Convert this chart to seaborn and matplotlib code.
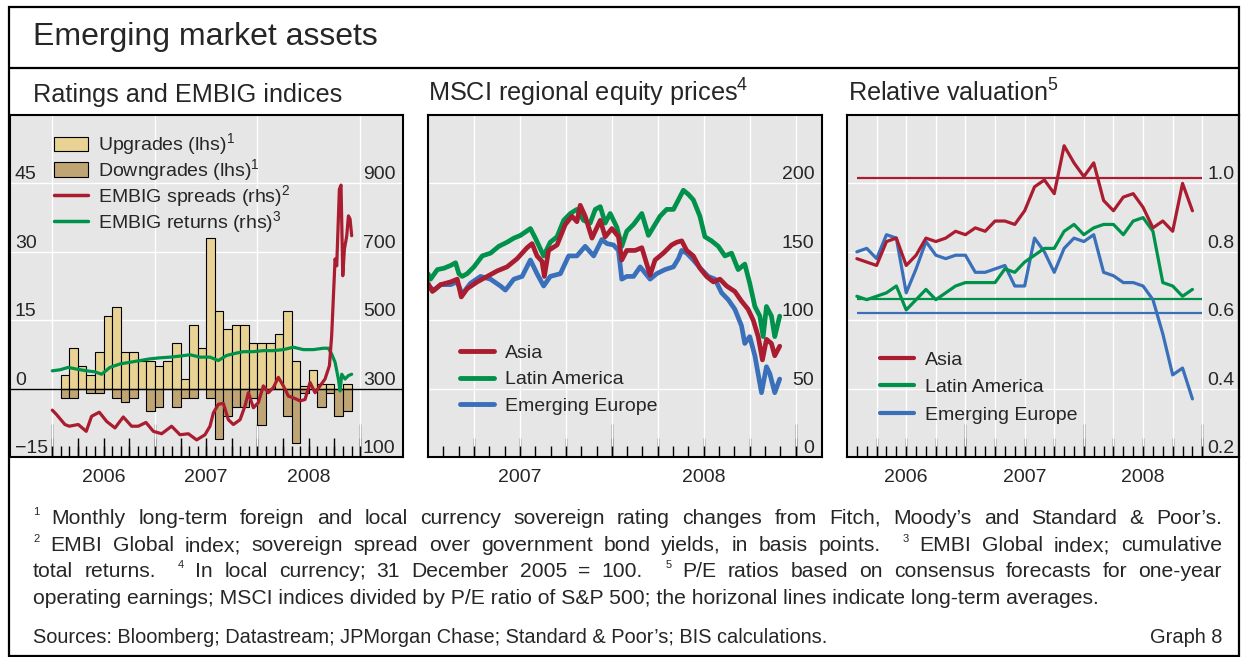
import numpy as np
import matplotlib
matplotlib.use("Agg")
import matplotlib.pyplot as plt
import seaborn as sns
from matplotlib.lines import Line2D
from matplotlib.patches import Patch, Rectangle

W, H = 1242, 657

# ---------------- data ----------------
# panel 1: monthly rating changes (month index since Jan 2006), EMBIG indices
rating_month = np.arange(1, 35)
upgrades = [3, 9, 5, 3, 8, 16, 18, 8, 8, 6, 6, 5, 6, 10, 2, 14, 9, 33, 17, 13,
            14, 14, 10, 10, 10, 12, 17, 6, 0.5, 4, 1, 1, 0, 1]
downgrades = [-2, -2, 0, -1, -1, 0, -2, -3, -2, 0, -5, -4, 0, -4, -2, -2, 0, -2, -11, -6,
              -4, -4, -2, -8, 0, 0, -6, -12, -1, 0, -4, -1, -6, -5]

spread_t = [2006.000, 2006.042, 2006.123, 2006.166, 2006.253, 2006.331, 2006.383, 2006.458,
            2006.530, 2006.611, 2006.692, 2006.773, 2006.838, 2006.913, 2006.985, 2007.066,
            2007.163, 2007.245, 2007.326, 2007.407, 2007.488, 2007.537, 2007.570, 2007.618,
            2007.667, 2007.716, 2007.765, 2007.830, 2007.878, 2007.911, 2007.960, 2008.008,
            2008.057, 2008.106, 2008.155, 2008.203, 2008.252, 2008.301, 2008.350, 2008.415,
            2008.463, 2008.512, 2008.561, 2008.610, 2008.658, 2008.701, 2008.723, 2008.756,
            2008.772, 2008.798, 2008.814, 2008.831, 2008.847, 2008.870, 2008.886, 2008.902,
            2008.918]
spreads = [237, 224, 195, 190, 195, 175, 219, 231, 204, 185, 217, 190, 190, 201, 175, 168,
           190, 165, 168, 150, 165, 190, 229, 254, 257, 209, 195, 209, 249, 288, 244, 259,
           308, 288, 303, 333, 308, 278, 273, 264, 268, 318, 288, 308, 328, 367, 456, 679,
           659, 883, 895, 630, 708, 747, 805, 796, 747]

returns_t = [2006.000, 2006.075, 2006.156, 2006.237, 2006.335, 2006.416, 2006.481, 2006.562,
             2006.660, 2006.757, 2006.855, 2006.952, 2007.050, 2007.147, 2007.245, 2007.342,
             2007.440, 2007.537, 2007.618, 2007.700, 2007.797, 2007.862, 2007.960, 2008.057,
             2008.155, 2008.252, 2008.350, 2008.447, 2008.545, 2008.642, 2008.691, 2008.723,
             2008.756, 2008.788, 2008.805, 2008.821, 2008.853, 2008.886, 2008.918]
returns = [352, 355, 362, 357, 352, 349, 342, 362, 372, 377, 382, 387, 390, 392, 395, 399,
           392, 392, 382, 397, 404, 408, 408, 411, 411, 414, 421, 414, 414, 418, 418, 401,
           377, 328, 293, 342, 328, 338, 342]

# panel 2: MSCI equity prices, 31 Dec 2005 = 100
asia_t = [2007.000, 2007.024, 2007.069, 2007.123, 2007.159, 2007.181, 2007.213, 2007.268,
          2007.322, 2007.376, 2007.430, 2007.485, 2007.539, 2007.566, 2007.593, 2007.620,
          2007.633, 2007.656, 2007.702, 2007.747, 2007.783, 2007.810, 2007.828, 2007.855,
          2007.892, 2007.937, 2007.964, 2008.000, 2008.036, 2008.054, 2008.081, 2008.127,
          2008.163, 2008.208, 2008.235, 2008.280, 2008.325, 2008.353, 2008.380, 2008.407,
          2008.443, 2008.479, 2008.515, 2008.552, 2008.588, 2008.624, 2008.669, 2008.705,
          2008.741, 2008.769, 2008.796, 2008.819, 2008.841, 2008.868, 2008.886, 2008.913]
asia_eq = [127, 121, 126, 128, 130, 117, 123, 128, 132, 136, 139, 145, 153, 156, 147, 143,
           132, 151, 155, 170, 176, 172, 184, 176, 160, 173, 161, 167, 161, 144, 151, 151,
           153, 133, 144, 149, 155, 157, 158, 151, 147, 138, 132, 128, 130, 125, 121, 114,
           108, 100, 88, 71, 86, 83, 74, 81]

latam_t = [2007.000, 2007.014, 2007.051, 2007.087, 2007.123, 2007.150, 2007.168, 2007.186,
           2007.213, 2007.250, 2007.295, 2007.340, 2007.385, 2007.430, 2007.467, 2007.503,
           2007.557, 2007.584, 2007.629, 2007.665, 2007.702, 2007.738, 2007.774, 2007.810,
           2007.846, 2007.882, 2007.910, 2007.937, 2007.964, 2007.991, 2008.027, 2008.054,
           2008.081, 2008.118, 2008.163, 2008.199, 2008.226, 2008.262, 2008.298, 2008.335,
           2008.362, 2008.389, 2008.416, 2008.443, 2008.479, 2008.506, 2008.542, 2008.579,
           2008.615, 2008.651, 2008.687, 2008.723, 2008.750, 2008.778, 2008.805, 2008.823,
           2008.841, 2008.868, 2008.886, 2008.913]
latam_eq = [134, 130, 137, 138, 140, 142, 134, 132, 134, 139, 147, 149, 154, 157, 160, 162,
            167, 160, 147, 157, 161, 173, 178, 181, 173, 171, 181, 183, 171, 178, 168, 154,
            165, 170, 178, 162, 168, 176, 181, 181, 188, 195, 192, 188, 176, 161, 158, 154,
            147, 149, 137, 141, 127, 110, 103, 88, 110, 103, 88, 103]

emeur_t = [2007.000, 2007.033, 2007.069, 2007.123, 2007.159, 2007.186, 2007.231, 2007.286,
           2007.340, 2007.394, 2007.421, 2007.467, 2007.512, 2007.557, 2007.593, 2007.629,
           2007.665, 2007.720, 2007.765, 2007.810, 2007.855, 2007.901, 2007.946, 2007.973,
           2008.009, 2008.036, 2008.054, 2008.081, 2008.118, 2008.154, 2008.208, 2008.244,
           2008.289, 2008.335, 2008.362, 2008.380, 2008.407, 2008.443, 2008.488, 2008.524,
           2008.561, 2008.597, 2008.633, 2008.669, 2008.705, 2008.723, 2008.750, 2008.778,
           2008.814, 2008.841, 2008.859, 2008.886, 2008.913]
emeur_eq = [125, 122, 126, 126, 128, 119, 127, 132, 130, 125, 122, 130, 132, 144, 134, 125,
            132, 134, 147, 147, 154, 147, 159, 156, 155, 151, 130, 132, 132, 139, 130, 134,
            137, 139, 145, 151, 149, 144, 137, 132, 130, 120, 115, 108, 96, 83, 88, 74,
            47, 66, 61, 47, 57]

# panel 3: relative P/E valuation, month-end from Jan 2006
val_month = np.arange(1, 36)
asia_rel = [0.78, 0.77, 0.76, 0.83, 0.84, 0.76, 0.79, 0.84, 0.83, 0.84, 0.86, 0.85, 0.87,
            0.86, 0.89, 0.89, 0.88, 0.92, 0.99, 1.01, 0.97, 1.11, 1.06, 1.02, 1.06, 0.95,
            0.92, 0.96, 0.97, 0.93, 0.87, 0.89, 0.86, 1.00, 0.92]
latam_rel = [0.67, 0.66, 0.67, 0.68, 0.70, 0.63, 0.66, 0.69, 0.66, 0.68, 0.70, 0.71, 0.71,
             0.71, 0.71, 0.75, 0.74, 0.77, 0.79, 0.81, 0.81, 0.86, 0.88, 0.85, 0.87, 0.88,
             0.88, 0.85, 0.89, 0.90, 0.86, 0.71, 0.70, 0.67, 0.69]
emeur_rel = [0.80, 0.81, 0.78, 0.85, 0.84, 0.68, 0.75, 0.83, 0.79, 0.78, 0.79, 0.79, 0.74,
             0.74, 0.75, 0.76, 0.70, 0.70, 0.84, 0.80, 0.74, 0.81, 0.84, 0.83, 0.85, 0.74,
             0.73, 0.71, 0.71, 0.70, 0.66, 0.56, 0.44, 0.46, 0.37]
long_avg = {"Asia": 1.016, "Latin America": 0.661, "Emerging Europe": 0.622}
avg_from, avg_to = 2006 + 1 / 12, 2009.0

lhs_ticks = [-15, 0, 15, 30, 45]
lhs_labels = ["\u221215", "0", "15", "30", "45"]
rhs_ticks = [100, 300, 500, 700, 900]
eq_ticks = [0, 50, 100, 150, 200]
rel_ticks = [0.2, 0.4, 0.6, 0.8, 1.0]
rel_labels = ["0.2", "0.4", "0.6", "0.8", "1.0"]

# ---------------- style ----------------
sns.set_theme(style="white")
plt.rcParams["font.family"] = ["Liberation Sans", "DejaVu Sans"]
plt.rcParams["mathtext.fontset"] = "custom"
plt.rcParams["mathtext.rm"] = "Liberation Sans"
plt.rcParams["mathtext.it"] = "Liberation Sans:italic"
plt.rcParams["mathtext.default"] = "regular"

RED, GREEN, BLUE = "#AA1C2F", "#00914B", "#3A6FBA"
UP_C, DOWN_C = "#E8D394", "#BFA474"
BG = "#E6E6E6"
TICK = 14

fig = plt.figure(figsize=(W / 100, H / 100), dpi=100)


def px_axes(l, t, r, b):
    return fig.add_axes([l / W, 1 - b / H, (r - l) / W, (b - t) / H])


def frame(ax):
    ax.set_facecolor(BG)
    for s in ax.spines.values():
        s.set_visible(True)
        s.set_color("black")
        s.set_linewidth(1.5)
        s.set_zorder(5)


def time_axis(ax, m0, m1, label_years, grid_every):
    m = np.arange(m0, m1 + 1)
    ax.xaxis.remove_overlapping_locs = False
    ax.set_xticks(m / 12, labels=[])
    ax.tick_params(axis="x", which="major", direction="in", length=8, width=1,
                   color="black", bottom=True)
    ax.set_xticks([y + 0.5 for y in label_years], labels=[str(y) for y in label_years], minor=True)
    ax.tick_params(axis="x", which="minor", length=0, pad=8.5, labelsize=TICK, bottom=True,
                   labelbottom=True)
    for step, ln in ((3, 14), (12, 24)):
        sec = ax.secondary_xaxis("bottom")
        sec.set_xticks(m[m % step == 0] / 12, labels=[])
        sec.tick_params(axis="x", direction="in", length=ln, width=1, color="black", bottom=True)
        sec.spines["bottom"].set_visible(False)
    for g in m[m % grid_every == 0] / 12:
        ax.axvline(g, color="white", lw=1, zorder=0.5)


def y_axis(ax, lim, ticks, labels, side, pad, grid=True):
    ax.set_ylim(*lim)
    ax.set_yticks(ticks, labels=labels)
    if side == "right":
        ax.yaxis.tick_right()
    ax.tick_params(axis="y", length=0, pad=pad, labelsize=TICK)
    for lab in ax.get_yticklabels():
        lab.set_ha("left" if side == "left" else "right")
        lab.set_va("bottom")
    if grid:
        for v in ticks[1:]:
            ax.axhline(v, color="white", lw=1, zorder=0.5)


# ---------------- panel 1 ----------------
ax1 = px_axes(10, 115, 403, 457)
frame(ax1)
bar_x = 2006 + (rating_month + 0.5) / 12
sns.barplot(x=bar_x, y=upgrades, native_scale=True, width=1, color=UP_C, saturation=1,
            edgecolor="black", linewidth=0.8, errorbar=None, ax=ax1)
sns.barplot(x=bar_x, y=downgrades, native_scale=True, width=1, color=DOWN_C, saturation=1,
            edgecolor="black", linewidth=0.8, errorbar=None, ax=ax1)
ax1.axhline(0, color="black", lw=1, zorder=3)
ax1.set_xlim(2005.588, 2009.418)
y_axis(ax1, (-15, 60), lhs_ticks, lhs_labels, "left", -3.5)
time_axis(ax1, 2006 * 12, 2009 * 12, [2006, 2007, 2008], 12)
ax1.set_xlabel("")
ax1.set_ylabel("")

ax1r = ax1.twinx()
sns.lineplot(x=returns_t, y=returns, color=GREEN, lw=2.3, ax=ax1r)
sns.lineplot(x=spread_t, y=spreads, color=RED, lw=2.3, ax=ax1r)
y_axis(ax1r, (100, 1100), rhs_ticks, [str(v) for v in rhs_ticks], "right", -5.5, grid=False)
ax1r.set_xlim(2005.588, 2009.418)
for s in ax1r.spines.values():
    s.set_visible(False)
ax1r.set_ylabel("")
h1 = [Patch(facecolor=UP_C, edgecolor="black", lw=0.8),
      Patch(facecolor=DOWN_C, edgecolor="black", lw=0.8),
      Line2D([], [], color=RED, lw=2.5), Line2D([], [], color=GREEN, lw=2.5)]
l1 = ["Upgrades (lhs)$^1$", "Downgrades (lhs)$^1$", "EMBIG spreads (rhs)$^2$",
      "EMBIG returns (rhs)$^3$"]
ax1r.legend(h1, l1, loc="upper left", bbox_to_anchor=(0.112, 0.952), frameon=False,
            fontsize=14, handlelength=1.75, handleheight=0.75, handletextpad=0.5,
            labelspacing=0.0, borderpad=0, borderaxespad=0)

# ---------------- panel 2 ----------------
ax2 = px_axes(428, 115, 822, 457)
frame(ax2)
sns.lineplot(x=emeur_t, y=emeur_eq, color=BLUE, lw=3.4, ax=ax2)
sns.lineplot(x=latam_t, y=latam_eq, color=GREEN, lw=3.4, ax=ax2)
sns.lineplot(x=asia_t, y=asia_eq, color=RED, lw=3.4, ax=ax2)
ax2.set_xlim(2007.0, 2009.143)
y_axis(ax2, (0, 250), eq_ticks, [str(v) for v in eq_ticks], "right", -5.5)
time_axis(ax2, 2007 * 12 + 1, 2009 * 12, [2007, 2008], 3)
ax2.set_ylabel("")
h2 = [Line2D([], [], color=c, lw=3.5) for c in (RED, GREEN, BLUE)]
ax2.legend(h2, ["Asia", "Latin America", "Emerging Europe"], loc="upper left",
           bbox_to_anchor=(0.081, 0.330), frameon=False, fontsize=14, handlelength=1.75,
           handletextpad=0.55, labelspacing=0.46, borderpad=0, borderaxespad=0)

# ---------------- panel 3 ----------------
ax3 = px_axes(847, 115, 1239, 457)
frame(ax3)
val_x = 2006 + val_month / 12
for name, c in (("Asia", RED), ("Latin America", GREEN), ("Emerging Europe", BLUE)):
    ax3.hlines(long_avg[name], avg_from, avg_to, color=c, lw=1.6, zorder=2)
sns.lineplot(x=val_x, y=emeur_rel, color=BLUE, lw=2.3, ax=ax3)
sns.lineplot(x=val_x, y=latam_rel, color=GREEN, lw=2.3, ax=ax3)
sns.lineplot(x=val_x, y=asia_rel, color=RED, lw=2.3, ax=ax3)
ax3.set_xlim(2006.0, 2009.31)
y_axis(ax3, (0.2, 1.2), rel_ticks, rel_labels, "right", -3)
time_axis(ax3, 2006 * 12 + 1, 2009 * 12, [2006, 2007, 2008], 3)
ax3.set_ylabel("")
h3 = [Line2D([], [], color=c, lw=3) for c in (RED, GREEN, BLUE)]
ax3.legend(h3, ["Asia", "Latin America", "Emerging Europe"], loc="upper left",
           bbox_to_anchor=(0.084, 0.31), frameon=False, fontsize=14, handlelength=1.75,
           handletextpad=0.55, labelspacing=0.51, borderpad=0, borderaxespad=0)

# ---------------- titles, frame ----------------
fig.add_artist(Rectangle((9 / W, 1 - 656 / H), 1230 / W, 649 / H, transform=fig.transFigure,
                         fill=False, ec="black", lw=1.6))
fig.add_artist(Line2D([9 / W, 1239 / W], [1 - 68 / H] * 2, transform=fig.transFigure,
                      color="black", lw=1.6))
fig.text(33 / W, 1 - 45 / H, "Emerging market assets", fontsize=23, va="baseline")
fig.text(33 / W, 1 - 102 / H, "Ratings and EMBIG indices", fontsize=18.2, va="baseline")
fig.text(428 / W, 1 - 102 / H, "MSCI regional equity prices$^4$", fontsize=18.2, va="baseline")
fig.text(848 / W, 1 - 102 / H, "Relative valuation$^5$", fontsize=18.2, va="baseline")

# ---------------- footnotes ----------------
NOTE, SUP = 15.2, 8
notes = [
    ("^1 Monthly long-term foreign and local currency sovereign rating changes from Fitch, "
     "Moody\u2019s and Standard & Poor\u2019s.", 524),
    ("^2 EMBI Global index; sovereign spread over government bond yields, in basis points. "
     "^3 EMBI Global index; cumulative", 551),
    ("total returns. ^4 In local currency; 31 December 2005 = 100. ^5 P/E ratios based on "
     "consensus forecasts for one-year", 577),
]
renderer = fig.canvas.get_renderer()
for line, base in notes:
    toks = line.split(" ")
    arts = []
    for tok in toks:
        if tok.startswith("^"):
            arts.append(fig.text(0, 0, tok[1:], fontsize=SUP, va="baseline"))
        else:
            arts.append(fig.text(0, 0, tok, fontsize=NOTE, va="baseline"))
    widths = [a.get_window_extent(renderer).width for a in arts]
    weights = [2.0 if (i > 0 and toks[i + 1].startswith("^")) else 1.0
               for i in range(len(toks) - 1)]
    unit = (1222 - 33 - sum(widths)) / sum(weights)
    x = 33
    for i, (a, tok) in enumerate(zip(arts, toks)):
        yb = base - (9 if tok.startswith("^") else 0)
        a.set_position((x / W, 1 - yb / H))
        x += widths[i] + (unit * weights[i] if i < len(weights) else 0)

fig.text(33 / W, 1 - 604 / H,
         "operating earnings; MSCI indices divided by P/E ratio of S&P 500; the horizonal lines "
         "indicate long-term averages.", fontsize=NOTE, va="baseline")
fig.text(33 / W, 1 - 643 / H,
         "Sources: Bloomberg; Datastream; JPMorgan Chase; Standard & Poor\u2019s; BIS calculations.",
         fontsize=14.4, va="baseline")
fig.text(1222 / W, 1 - 643 / H, "Graph 8", fontsize=14.4, va="baseline", ha="right")

fig.savefig("out.png", dpi=100)
